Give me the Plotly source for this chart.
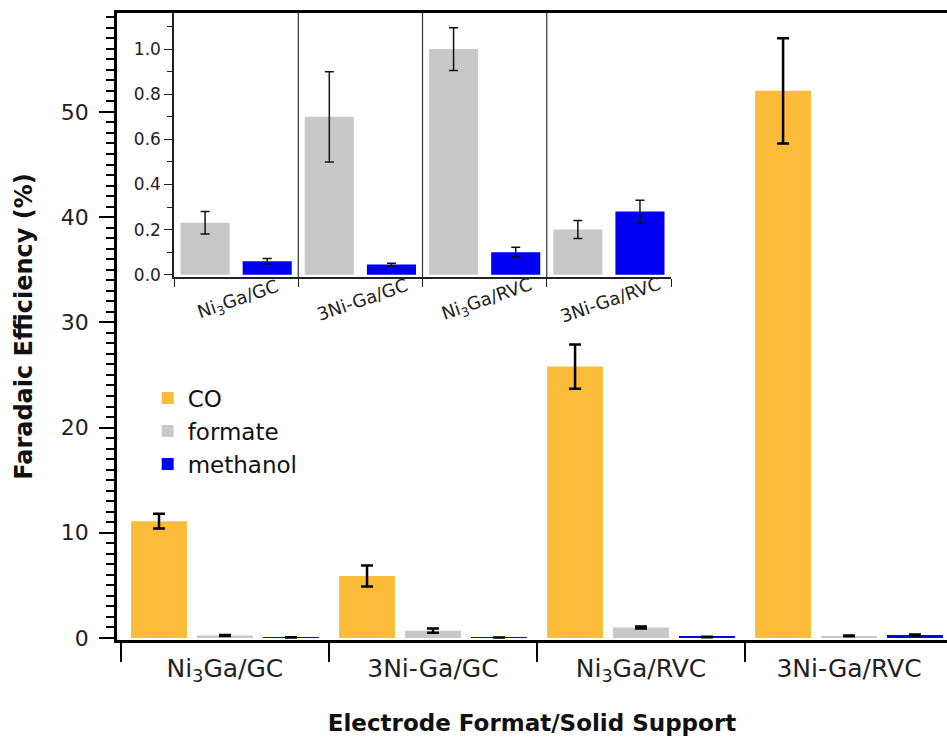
import plotly.graph_objects as go

# ---------------- data ----------------
categories = ["Ni<sub>3</sub>Ga/GC", "3Ni-Ga/GC", "Ni<sub>3</sub>Ga/RVC", "3Ni-Ga/RVC"]
co = [11.1, 5.9, 25.8, 52.0]
co_err = [0.7, 1.0, 2.1, 5.0]
formate = [0.23, 0.70, 1.00, 0.20]
formate_err = [0.05, 0.20, 0.095, 0.04]
methanol = [0.06, 0.045, 0.10, 0.28]
methanol_err = [0.012, 0.006, 0.022, 0.05]

series_names = ["CO", "formate", "methanol"]
colors = {"CO": "#FDBB3A", "formate": "#C8C8C8", "methanol": "#0000F5"}

FONT = "DejaVu Sans"

fig = go.Figure()

# ---------------- main chart ----------------
slot, bw = 0.317, 0.269
main_series = [("CO", co, co_err), ("formate", formate, formate_err), ("methanol", methanol, methanol_err)]
for i, (name, vals, errs) in enumerate(main_series):
    center = (i - 1) * slot
    fig.add_trace(go.Bar(
        x=categories, y=vals, name=name,
        marker=dict(color=colors[name], line=dict(width=0)),
        width=bw, offset=center - bw / 2,
        error_y=dict(type="data", array=errs, visible=True, color="black", thickness=2.5, width=6),
        xaxis="x", yaxis="y", showlegend=True,
    ))

# ---------------- inset chart ----------------
islot, ibw = 0.5, 0.395
inset_series = [("formate", formate, formate_err), ("methanol", methanol, methanol_err)]
for i, (name, vals, errs) in enumerate(inset_series):
    center = (i - 0.5) * islot
    fig.add_trace(go.Bar(
        x=categories, y=vals, name=name,
        marker=dict(color=colors[name], line=dict(width=0)),
        width=ibw, offset=center - ibw / 2,
        error_y=dict(type="data", array=errs, visible=True, color="#111111", thickness=1.5, width=4.5),
        xaxis="x2", yaxis="y2", showlegend=False,
    ))

shapes = []
for k in range(len(categories) - 1):
    b = k + 0.5
    shapes.append(dict(type="line", xref="x2", yref="y2 domain", x0=b, x1=b, y0=0, y1=1,
                       line=dict(color="#333333", width=1.2)))

annotations = []
for c in categories:
    annotations.append(dict(x=c, xref="x2", xshift=2, y=0.543, yref="paper", text=c, showarrow=False,
                            textangle=-19, font=dict(family=FONT, size=18, color="#222222")))

fig.update_layout(
    width=947, height=737,
    margin=dict(l=117, r=0, t=13, b=97),
    paper_bgcolor="white", plot_bgcolor="white",
    barmode="overlay",
    font=dict(family=FONT, color="#222222"),
    xaxis=dict(
        type="category", domain=[0, 1], range=[-0.519, 3.471],
        showline=True, linecolor="black", linewidth=2.5, mirror=True,
        ticks="outside", tickson="boundaries", ticklen=19, tickwidth=2, tickcolor="black",
        ticklabelstandoff=4,
        tickfont=dict(family=FONT, size=25, color="#222222"),
        showgrid=False, zeroline=False,
        title=dict(text="Electrode Format/Solid Support", standoff=30,
                   font=dict(family=FONT, size=23, color="#111111", weight="bold")),
    ),
    yaxis=dict(
        domain=[0, 1], range=[-0.19, 59.4],
        showline=True, linecolor="black", linewidth=2.5,
        ticks="outside", ticklen=15, tickwidth=2, tickcolor="black", dtick=10, tick0=0,
        minor=dict(ticks="outside", ticklen=8, tickwidth=1.8, dtick=1, tickcolor="black", showgrid=False),
        ticklabelstandoff=6,
        tickfont=dict(family=FONT, size=22, color="#222222"),
        showgrid=False, zeroline=False,
        title=dict(text="Faradaic Efficiency (%)", standoff=22,
                   font=dict(family=FONT, size=24, color="#111111", weight="bold")),
    ),
    xaxis2=dict(
        type="category", domain=[0.0687, 0.6675], anchor="y2", range=[-0.5, 3.5],
        showline=True, linecolor="#222222", linewidth=1.5,
        ticks="outside", tickson="boundaries", ticklen=8, tickwidth=1.2, tickcolor="#222222",
        showticklabels=False, showgrid=False, zeroline=False,
    ),
    yaxis2=dict(
        domain=[0.579, 1.0], anchor="x2", range=[-0.01, 1.16],
        showline=True, linecolor="#222222", linewidth=1.5,
        ticks="outside", ticklen=8, tickwidth=1.2, tickcolor="#222222", dtick=0.2, tick0=0,
        tickformat=".1f",
        minor=dict(ticks="outside", ticklen=5, tickwidth=1, dtick=0.1, tickcolor="#222222", showgrid=False),
        tickfont=dict(family=FONT, size=17, color="#222222"),
        showgrid=False, zeroline=False,
    ),
    legend=dict(x=0.037, y=0.42, xanchor="left", yanchor="top",
                font=dict(family=FONT, size=23, color="#111111"),
                bgcolor="rgba(0,0,0,0)", tracegroupgap=0),
    shapes=shapes,
    annotations=annotations,
)

fig.write_html("out.html")
